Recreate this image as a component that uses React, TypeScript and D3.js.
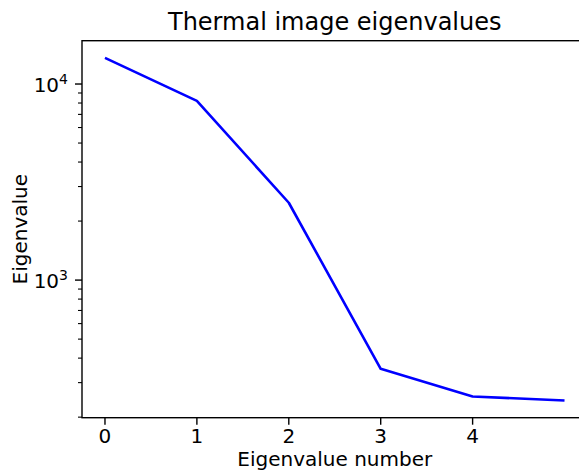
import { useEffect, useRef } from "react";
import * as d3 from "d3";

// eigenvalue index and value
var indices = [0, 1, 2, 3, 4, 5];
var eigenvalues = [13600, 8200, 2480, 353, 255, 243];
var xTicks = [0, 1, 2, 3, 4];
var yMajor = [1000, 10000];

var W = 579, H = 471;
var left = 82, top = 40.7, bottom = 417.7, right = 587.5;
var font = "DejaVu Sans, sans-serif";

function App() {
    const ref = useRef<SVGSVGElement>(null);

    useEffect(() => {
        draw(ref.current);
    }, []);

    return (
        <svg ref={ref} width={W} height={H}
            style={{ position: "absolute", left: 0, top: 0, background: "#fff" }}></svg>
    );
}

function draw(node: SVGSVGElement | null) {
    if (!node) return;
    var svg = d3.select(node);
    svg.selectAll("*").remove();

    // matplotlib-ish 5% margins, in log space for y
    var xlo = d3.min(indices)!, xhi = d3.max(indices)!;
    var xpad = (xhi - xlo) * 0.05;
    var x = d3.scaleLinear().domain([xlo - xpad, xhi + xpad]).range([left, right]);

    var llo = Math.log10(d3.min(eigenvalues)!), lhi = Math.log10(d3.max(eigenvalues)!);
    var lpad = (lhi - llo) * 0.05;
    var y = d3.scaleLog()
        .domain([Math.pow(10, llo - lpad), Math.pow(10, lhi + lpad)])
        .range([bottom, top]);

    // line
    svg.append("path")
        .datum(indices)
        .attr("fill", "none")
        .attr("stroke", "#0000ff")
        .attr("stroke-width", 2.6)
        .attr("stroke-linejoin", "round")
        .attr("d", d3.line<number>()
            .x(function(d) { return x(d); })
            .y(function(d, i) { return y(eigenvalues[i]); }));

    // spines
    svg.append("rect")
        .attr("x", left).attr("y", top)
        .attr("width", right - left).attr("height", bottom - top)
        .attr("fill", "none")
        .attr("stroke", "#000")
        .attr("stroke-width", 1.4);

    // x ticks
    xTicks.forEach(function(t) {
        svg.append("line")
            .attr("x1", x(t)).attr("x2", x(t))
            .attr("y1", bottom).attr("y2", bottom + 7)
            .attr("stroke", "#000").attr("stroke-width", 1.4);
        svg.append("text")
            .text(t)
            .attr("x", x(t)).attr("y", bottom + 25.5)
            .attr("text-anchor", "middle")
            .style("font-family", font).style("font-size", "20px").attr("fill", "#000");
    });

    // y minor ticks
    var minor = y.ticks().filter(function(t) {
        return yMajor.indexOf(t) < 0 && t >= y.domain()[0] && t <= y.domain()[1];
    });
    minor.forEach(function(t) {
        svg.append("line")
            .attr("x1", left - 4).attr("x2", left)
            .attr("y1", y(t)).attr("y2", y(t))
            .attr("stroke", "#000").attr("stroke-width", 1.1);
    });

    // y major ticks with 10^n labels
    yMajor.forEach(function(t) {
        svg.append("line")
            .attr("x1", left - 7).attr("x2", left)
            .attr("y1", y(t)).attr("y2", y(t))
            .attr("stroke", "#000").attr("stroke-width", 1.4);
        var txt = svg.append("text")
            .attr("x", left - 14).attr("y", y(t) + 7.5)
            .attr("text-anchor", "end")
            .style("font-family", font).style("font-size", "20px").attr("fill", "#000");
        txt.append("tspan").text("10");
        txt.append("tspan").text(Math.round(Math.log10(t)))
            .attr("dy", -8).style("font-size", "14px");
    });

    // labels
    svg.append("text")
        .text("Thermal image eigenvalues")
        .attr("x", (left + right) / 2).attr("y", 30)
        .attr("text-anchor", "middle")
        .style("font-family", font).style("font-size", "24px").attr("fill", "#000");

    svg.append("text")
        .text("Eigenvalue number")
        .attr("x", (left + right) / 2).attr("y", 466)
        .attr("text-anchor", "middle")
        .style("font-family", font).style("font-size", "20px").attr("fill", "#000");

    svg.append("text")
        .text("Eigenvalue")
        .attr("transform", `translate(27, ${(top + bottom) / 2}) rotate(-90)`)
        .attr("text-anchor", "middle")
        .style("font-family", font).style("font-size", "20px").attr("fill", "#000");
}

export default App;
